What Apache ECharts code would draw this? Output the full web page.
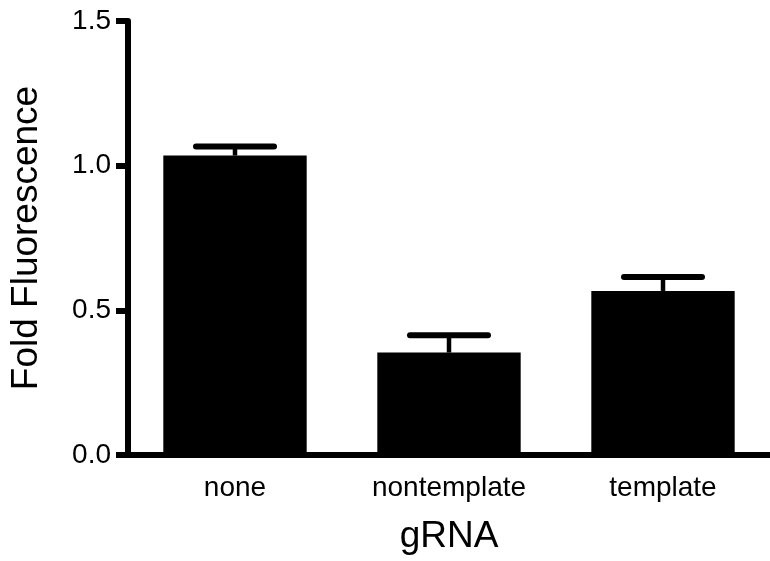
<!DOCTYPE html>
<html>
<head>
<meta charset="utf-8">
<script src="https://cdn.jsdelivr.net/npm/echarts@6/dist/echarts.min.js"></script>
<style>
html,body{margin:0;padding:0;background:#fff;}
#chart{width:770px;height:561px;}
</style>
</head>
<body>
<div id="chart"></div>
<script>
var categories = ['none', 'nontemplate', 'template'];
var means = [1.035, 0.354, 0.567];
var errors = [0.031, 0.060, 0.048];
var yTicks = [0, 0.5, 1.0, 1.5];

var FONT = '"Liberation Sans", Arial, Helvetica, sans-serif';
var chart = echarts.init(document.getElementById('chart'), null, {renderer: 'canvas'});

var errData = categories.map(function (c, i) { return [i, means[i], means[i] + errors[i]]; });

chart.setOption({
  animation: false,
  backgroundColor: '#fff',
  grid: {left: 125, top: 21, width: 653, height: 434, containLabel: false},
  xAxis: {
    type: 'category',
    data: categories,
    name: 'gRNA',
    nameLocation: 'middle',
    nameGap: 63,
    nameTextStyle: {fontFamily: FONT, fontSize: 37, color: '#000'},
    axisLine: {lineStyle: {color: '#000', width: 6}},
    axisTick: {alignWithLabel: true, length: 12, lineStyle: {color: '#000', width: 5}},
    axisLabel: {fontFamily: FONT, fontSize: 28, color: '#000', margin: 19}
  },
  yAxis: {
    type: 'value',
    min: yTicks[0],
    max: yTicks[yTicks.length - 1],
    interval: 0.5,
    name: 'Fold Fluorescence',
    nameLocation: 'middle',
    nameGap: 83,
    nameTextStyle: {fontFamily: FONT, fontSize: 37, color: '#000'},
    splitLine: {show: false},
    axisLine: {show: true, lineStyle: {color: '#000', width: 6}},
    axisTick: {show: true, length: 12, lineStyle: {color: '#000', width: 6}},
    axisLabel: {fontFamily: FONT, fontSize: 28, color: '#000', margin: 17,
      formatter: function (v) { return v.toFixed(1); }}
  },
  series: [
    {
      type: 'bar',
      data: means,
      barWidth: '67%',
      itemStyle: {color: '#000'},
      z: 2
    },
    {
      type: 'custom',
      data: errData,
      z: 3,
      renderItem: function (params, api) {
        var i = api.value(0);
        var base = api.coord([i, api.value(1)]);
        var top = api.coord([i, api.value(2)]);
        var half = 39;
        return {
          type: 'group',
          children: [
            {type: 'line', shape: {x1: base[0], y1: base[1], x2: top[0], y2: top[1]},
              style: {stroke: '#000', lineWidth: 4.5}},
            {type: 'line', shape: {x1: top[0] - half, y1: top[1], x2: top[0] + half, y2: top[1]},
              style: {stroke: '#000', lineWidth: 6, lineCap: 'round'}}
          ]
        };
      }
    }
  ]
});
</script>
</body>
</html>
